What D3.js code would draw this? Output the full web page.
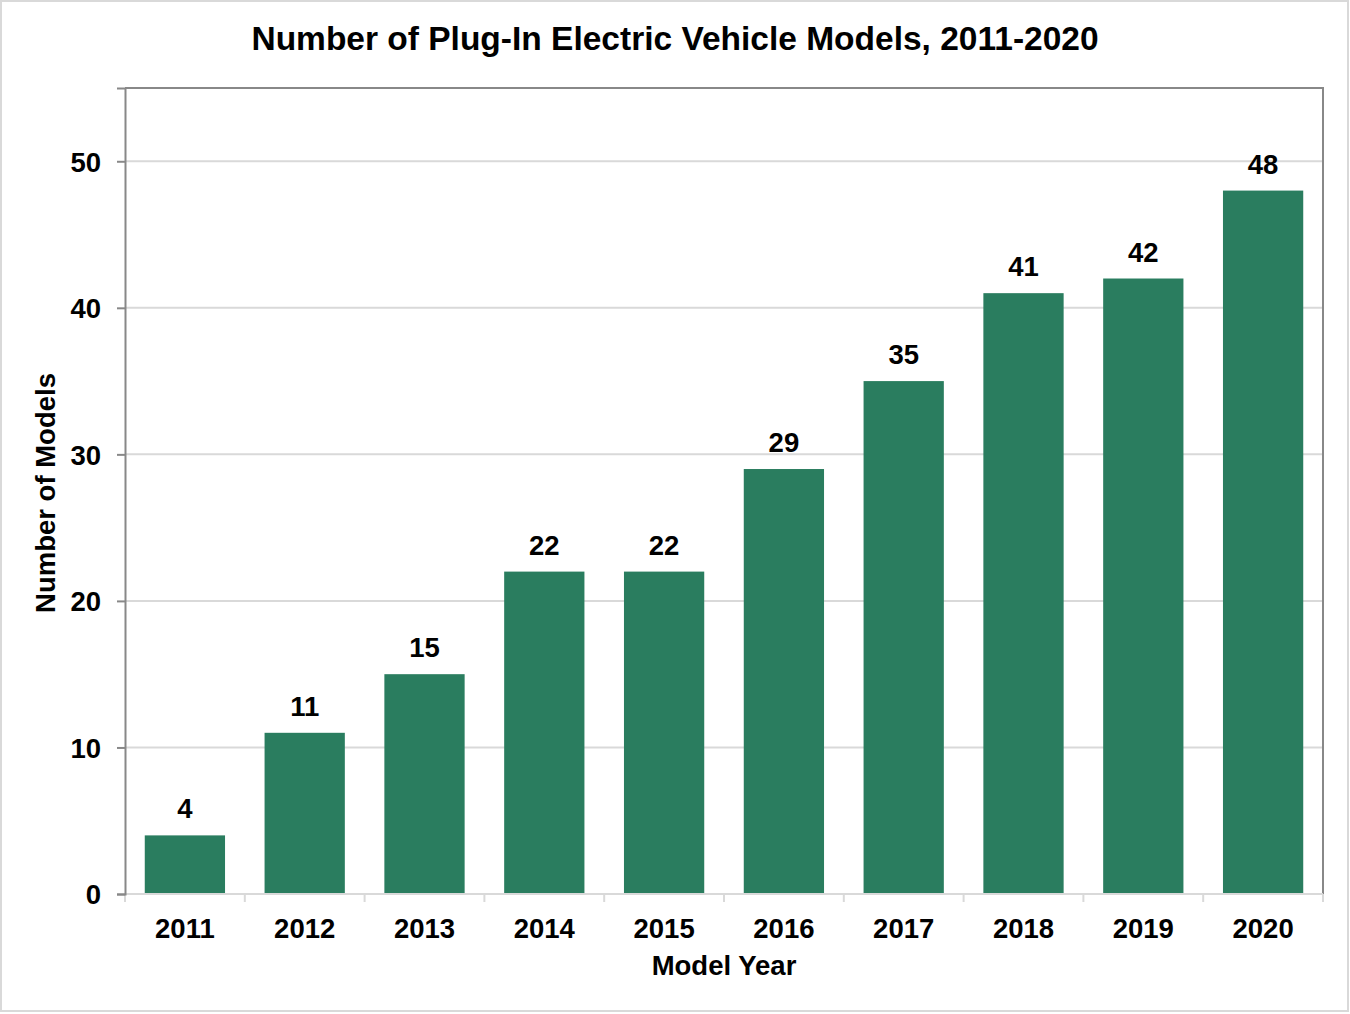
<!DOCTYPE html>
<head>
  <meta charset="utf-8">
  <style>
  body {
    margin: 0;
    background: #fff;
  }
  svg text {
    font-family: "Liberation Sans", Arial, sans-serif;
    font-weight: bold;
    fill: #000;
  }
  .grid line {
    stroke: #d9d9d9;
    stroke-width: 2px;
  }
</style>
</head>
<svg class="chart" width="1350" height="1014"></svg>

<script src="https://cdn.jsdelivr.net/npm/d3@7"></script>
<script>
// model years and number of plug-in models
var years = ["2011", "2012", "2013", "2014", "2015", "2016", "2017", "2018", "2019", "2020"];
var models = [4, 11, 15, 22, 22, 29, 35, 41, 42, 48];
var yTicks = [0, 10, 20, 30, 40, 50];

var svg = d3.select("svg"),
  margin = { top: 88, right: 27, bottom: 120, left: 125 },
  width = svg.attr("width") - margin.left - margin.right,
  height = svg.attr("height") - margin.top - margin.bottom,
  fs = "27.5px";

// outer border
svg.append("rect")
  .attr("x", 1).attr("y", 1)
  .attr("width", 1347).attr("height", 1010)
  .attr("fill", "none")
  .attr("stroke", "#d9d9d9")
  .attr("stroke-width", 2);

svg.append("text")
  .attr("x", 675)
  .attr("y", 50)
  .attr("text-anchor", "middle")
  .style("font-size", "33.5px")
  .text("Number of Plug-In Electric Vehicle Models, 2011-2020");

var g = svg.append("g")
  .attr("transform", "translate(" + margin.left + "," + margin.top + ")");

var x = d3.scaleBand()
  .domain(years)
  .range([0, width])
  .paddingInner(0.33)
  .paddingOuter(0.165);

var y = d3.scaleLinear().domain([0, 55]).range([height, 0]);

// gridlines
g.append("g")
  .attr("class", "grid")
  .selectAll("line")
  .data(yTicks.filter(function(d) { return d > 0; }))
  .enter().append("line")
  .attr("x1", 0).attr("x2", width)
  .attr("y1", function(d) { return y(d); })
  .attr("y2", function(d) { return y(d); });

// frame: top, right
g.append("path")
  .attr("d", "M0," + y(55) + "H" + width + "V" + height)
  .attr("fill", "none")
  .attr("stroke", "#888")
  .attr("stroke-width", 2);

g.selectAll(".bar")
  .data(models)
  .enter().append("rect")
  .attr("class", "bar")
  .attr("x", function(d, i) { return x(years[i]); })
  .attr("width", x.bandwidth())
  .attr("y", function(d) { return y(d); })
  .attr("height", function(d) { return height - y(d); })
  .attr("fill", "#2a7d5f");

g.selectAll(".value")
  .data(models)
  .enter().append("text")
  .attr("class", "value")
  .attr("x", function(d, i) { return x(years[i]) + x.bandwidth() / 2; })
  .attr("y", function(d) { return y(d) - 17; })
  .attr("text-anchor", "middle")
  .style("font-size", fs)
  .text(function(d) { return d; });

// x axis: light line with ticks at band edges
var xAxis = g.append("g")
  .attr("transform", "translate(0," + height + ")");
xAxis.append("line")
  .attr("x1", 0).attr("x2", width)
  .attr("stroke", "#d9d9d9").attr("stroke-width", 2);
xAxis.selectAll(".tick")
  .data(d3.range(years.length + 1))
  .enter().append("line")
  .attr("x1", function(i) { return i * x.step(); })
  .attr("x2", function(i) { return i * x.step(); })
  .attr("y1", 0).attr("y2", 8)
  .attr("stroke", "#d9d9d9").attr("stroke-width", 2);
xAxis.selectAll(".label")
  .data(years)
  .enter().append("text")
  .attr("x", function(d) { return x(d) + x.bandwidth() / 2; })
  .attr("y", 44)
  .attr("text-anchor", "middle")
  .style("font-size", fs)
  .text(function(d) { return d; });

// y axis
var yAxis = g.append("g")
  .call(d3.axisLeft(y).tickValues(yTicks).tickSize(8).tickPadding(16));
yAxis.select(".domain").attr("stroke", "#888").attr("stroke-width", 2);
yAxis.selectAll(".tick line").attr("stroke", "#888").attr("stroke-width", 2);
yAxis.selectAll(".tick text")
  .style("font-size", fs)
  .style("font-family", "'Liberation Sans', Arial, sans-serif")
  .attr("dy", "0.36em");

svg.append("text")
  .attr("transform", "translate(55," + (margin.top + height / 2 + 2) + ") rotate(-90)")
  .attr("text-anchor", "middle")
  .style("font-size", fs)
  .text("Number of Models");

svg.append("text")
  .attr("x", margin.left + width / 2)
  .attr("y", 975)
  .attr("text-anchor", "middle")
  .style("font-size", fs)
  .text("Model Year");
</script>
